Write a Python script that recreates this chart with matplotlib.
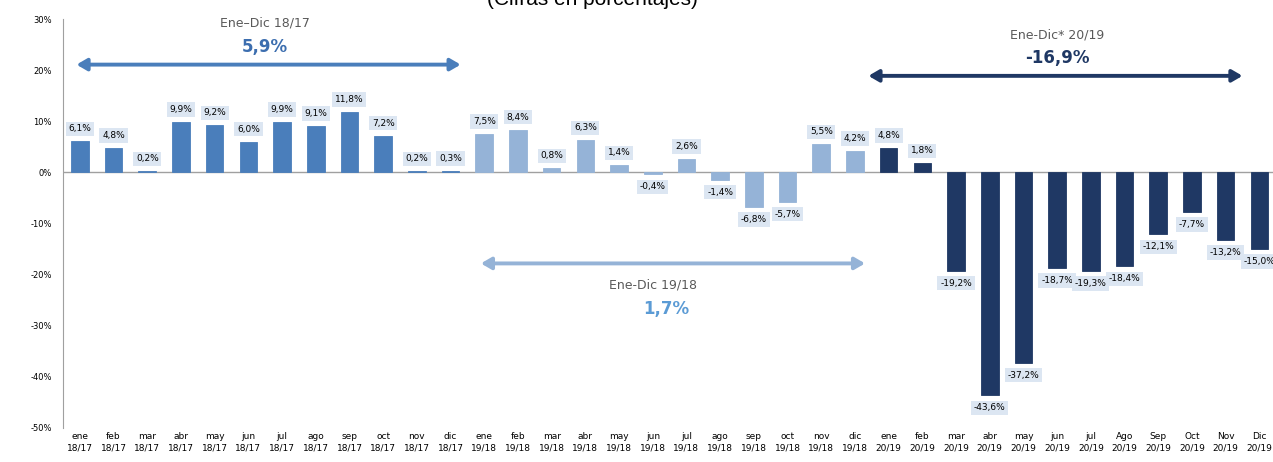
import matplotlib.pyplot as plt
import numpy as np

# datos: variacion interanual (%)
meses = ['ene', 'feb', 'mar', 'abr', 'may', 'jun', 'jul', 'ago', 'sep', 'oct', 'nov', 'dic']
meses_20 = ['ene', 'feb', 'mar', 'abr', 'may', 'jun', 'jul', 'Ago', 'Sep', 'Oct', 'Nov', 'Dic']
v_18_17 = [6.1, 4.8, 0.2, 9.9, 9.2, 6.0, 9.9, 9.1, 11.8, 7.2, 0.2, 0.3]
v_19_18 = [7.5, 8.4, 0.8, 6.3, 1.4, -0.4, 2.6, -1.4, -6.8, -5.7, 5.5, 4.2]
v_20_19 = [4.8, 1.8, -19.2, -43.6, -37.2, -18.7, -19.3, -18.4, -12.1, -7.7, -13.2, -15.0]

etiquetas = ([m + '\n18/17' for m in meses] + [m + '\n19/18' for m in meses]
             + [m + '\n20/19' for m in meses_20])
valores = v_18_17 + v_19_18 + v_20_19

c1, c2, c3 = '#4a7ebb', '#95b3d7', '#1f3864'
colores = [c1] * 12 + [c2] * 12 + [c3] * 12

plt.rcParams['font.family'] = ['Liberation Sans Narrow', 'DejaVu Sans']

fig = plt.figure(figsize=(12.73, 4.62), dpi=100)
ax = fig.add_axes([0.0495, 0.0736, 0.953, 0.885])

x = np.arange(len(valores))
ax.bar(x, valores, width=0.52, color=colores, edgecolor=colores, linewidth=0.6, zorder=2)
ax.axhline(0, color='#a0a0a0', lw=1, zorder=1)

# etiquetas de datos
for xi, v in zip(x, valores):
    txt = '{:.1f}%'.format(v).replace('.', ',')
    off = 9 if v >= 0 else -9
    ax.annotate(txt, (xi, v), xytext=(0, off), textcoords='offset points',
                ha='center', va='center', fontsize=6.5, color='black',
                bbox=dict(boxstyle='square,pad=0.3', fc='#dce6f2', ec='none'), zorder=3)

ax.set_xlim(-0.5, len(valores) - 0.5)
ax.set_ylim(-50, 30)
ax.set_yticks(np.arange(-50, 31, 10))
ax.set_yticklabels(['{}%'.format(t) for t in range(-50, 31, 10)], fontsize=6)
ax.set_xticks(x)
ax.set_xticklabels(etiquetas, fontsize=6.5, linespacing=1.3)
ax.tick_params(length=0, pad=3)
ax.tick_params(axis='y', pad=8)
for s in ['top', 'right', 'bottom']:
    ax.spines[s].set_visible(False)
ax.spines['left'].set_color('#a0a0a0')

# flechas de periodos
def periodo(i0, i1, y, color, lw):
    ax.annotate('', xy=(i0 - 0.1, y), xytext=(i1 + 0.3, y),
                arrowprops=dict(arrowstyle='<|-|>,head_length=0.6,head_width=0.35',
                                color=color, lw=lw, shrinkA=0, shrinkB=0))

periodo(0, 11, 21.1, c1, 2.8)
periodo(12, 23, -17.8, c2, 2.8)
periodo(23.5, 34.2, 18.9, c3, 2.8)

ax.text(5.5, 29.3, 'Ene–Dic 18/17', ha='center', va='center', fontsize=9, color='#595959')
ax.text(5.5, 24.6, '5,9%', ha='center', va='center', fontsize=12, fontweight='bold', color='#3c6eaf')
ax.text(17.0, -22.1, 'Ene-Dic 19/18', ha='center', va='center', fontsize=9, color='#595959')
ax.text(17.4, -26.8, '1,7%', ha='center', va='center', fontsize=12, fontweight='bold', color='#5b9bd5')
ax.text(29.0, 26.8, 'Ene-Dic* 20/19', ha='center', va='center', fontsize=9, color='#595959')
ax.text(29.0, 22.3, '-16,9%', ha='center', va='center', fontsize=12, fontweight='bold', color=c3)

fig.text(592 / 1273, 0.989, '(Cifras en porcentajes)', ha='center', va='baseline',
         fontsize=15, family='Liberation Sans', color='black')

fig.savefig('out.png', dpi=100)
